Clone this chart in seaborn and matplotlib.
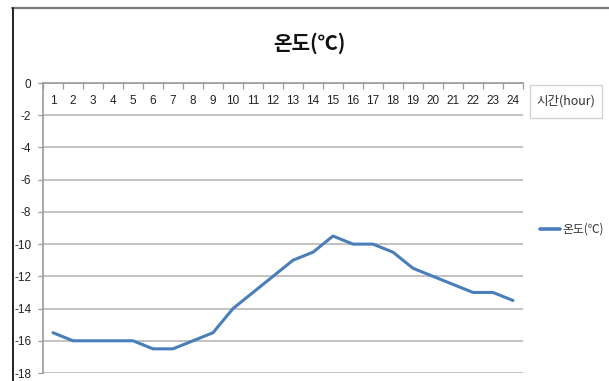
import matplotlib
matplotlib.use("Agg")
import matplotlib.pyplot as plt
from matplotlib.lines import Line2D
from matplotlib.patches import Rectangle
import seaborn as sns
import pandas as pd

# Hourly temperature readings
hours = list(range(1, 25))
temps = [-15.5, -16, -16, -16, -16, -16.5, -16.5, -16, -15.5, -14,
         -13, -12, -11, -10.5, -9.5, -10, -10, -10.5, -11.5, -12,
         -12.5, -13, -13, -13.5]
y_ticks = list(range(-18, 1, 2))
title = "온도(℃)"
x_title = "시간(hour)"
series_name = "온도(℃)"

sns.set_theme(style="white")
plt.rcParams["font.family"] = ["Noto Sans CJK KR", "DejaVu Sans"]

df = pd.DataFrame({"hour": hours, "temp": temps})

fig = plt.figure(figsize=(6.09, 3.81), dpi=100)
fig.patch.set_facecolor("white")

# outer chart frame: gray top edge, dark left edge
fig.add_artist(Line2D([12 / 609, 1.0], [1 - 8 / 381, 1 - 8 / 381],
                      transform=fig.transFigure, color="#7a7a7a", lw=1.6))
fig.add_artist(Line2D([12.5 / 609, 12.5 / 609], [0, 1 - 8 / 381],
                      transform=fig.transFigure, color="#222222", lw=1.4))

ax = fig.add_axes([43 / 609, 8 / 381, 480 / 609, 290 / 381])
sns.lineplot(data=df, x="hour", y="temp", ax=ax, color="#4A7EBB",
             linewidth=2.2, legend=False)

ax.set_xlim(0.5, 24.5)
ax.set_ylim(-18, 0)
ax.set_xlabel("")
ax.set_ylabel("")

tick_font = ["Liberation Sans", "DejaVu Sans"]

# y axis
ax.set_yticks(y_ticks)
ax.set_yticklabels([str(v) for v in y_ticks], family=tick_font, fontsize=8.5,
                   color="#222222")
ax.tick_params(axis="y", direction="out", length=3.5, width=0.9,
               color="#9a9a9a", pad=5, left=True)
ax.yaxis.grid(True, color="#bdbdbd", lw=1.3)
ax.set_axisbelow(True)

# x axis crosses at y = 0; labels centred on categories, ticks between them
ax.spines["bottom"].set_position(("data", 0))
ax.set_xticks(hours)
ax.set_xticklabels([str(h) for h in hours], family=tick_font, fontsize=8.5,
                   color="#222222")
ax.tick_params(axis="x", length=0, pad=9)
ax.set_xticks([h + 0.5 for h in range(0, 25)], minor=True)
ax.tick_params(axis="x", which="minor", direction="out", length=4,
               width=0.9, color="#9a9a9a", bottom=True)

for side in ["top", "right"]:
    ax.spines[side].set_visible(False)
ax.spines["bottom"].set_color("#9a9a9a")
ax.spines["bottom"].set_linewidth(1.2)
ax.spines["left"].set_color("#9a9a9a")
ax.spines["left"].set_linewidth(1.2)
ax.spines["left"].set_bounds(-18, 0)

# chart title
fig.text(309 / 609, 1 - 43 / 381, title, ha="center", va="center",
         fontsize=14.5, fontweight="bold", color="#111111")

# axis title in a box
fig.add_artist(Rectangle((530 / 609, 1 - 118 / 381), 72 / 609, 33 / 381,
                         transform=fig.transFigure, facecolor="white",
                         edgecolor="#d4d4d4", lw=1.0))
fig.text(566 / 609, 1 - 101 / 381, x_title, ha="center", va="center",
         fontsize=9, color="#333333")

# legend entry
fig.add_artist(Line2D([540 / 609, 560 / 609], [1 - 229 / 381, 1 - 229 / 381],
                      transform=fig.transFigure, color="#4A7EBB", lw=2.6))
fig.text(562 / 609, 1 - 229 / 381, series_name, ha="left", va="center",
         fontsize=8.5, color="#333333")

fig.savefig("out.png", dpi=100, facecolor="white")
